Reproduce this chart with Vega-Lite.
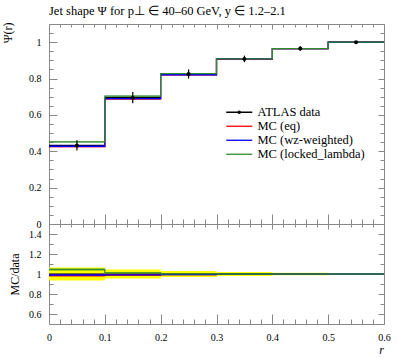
{
  "$schema": "https://vega.github.io/schema/vega-lite/v6.json",
  "padding": {"left": 0, "top": 4, "right": 5, "bottom": 2},
  "background": "white",
  "spacing": 0,
  "bounds": "flush",
  "config": {
    "view": {"stroke": "#888888", "strokeWidth": 1},
    "axis": {"domain": false, "grid": false, "labelFlush": false, "tickColor": "#888888", "tickWidth": 1, "labelFont": "Liberation Serif", "labelFontSize": 10, "labelColor": "black", "titleFont": "Liberation Serif", "titleFontWeight": "normal", "titleColor": "black", "titleFontSize": 12},
    "legend": {"labelFont": "Liberation Serif", "labelFontSize": 12.5, "labelColor": "black"}
  },
  "datasets": {
    "mcbins": [
      {"series": "MC (eq)", "lo": 0.0, "hi": 0.1, "val": 0.4255, "lo_v": 0.4205, "hi_v": 0.4305, "ratio": 0.985, "rlo": 0.973, "rhi": 0.997},
      {"series": "MC (eq)", "lo": 0.1, "hi": 0.2, "val": 0.688, "lo_v": 0.6825, "hi_v": 0.6935, "ratio": 0.99, "rlo": 0.982, "rhi": 0.998},
      {"series": "MC (eq)", "lo": 0.2, "hi": 0.3, "val": 0.821, "lo_v": 0.817, "hi_v": 0.825, "ratio": 0.995, "rlo": 0.99, "rhi": 1.0},
      {"series": "MC (eq)", "lo": 0.3, "hi": 0.4, "val": 0.906, "lo_v": 0.903, "hi_v": 0.909, "ratio": 0.998, "rlo": 0.994, "rhi": 1.002},
      {"series": "MC (eq)", "lo": 0.4, "hi": 0.5, "val": 0.965, "lo_v": 0.962, "hi_v": 0.968, "ratio": 1.0, "rlo": 0.997, "rhi": 1.003},
      {"series": "MC (eq)", "lo": 0.5, "hi": 0.6, "val": 1.0, "lo_v": 0.998, "hi_v": 1.002, "ratio": 1.0, "rlo": 0.998, "rhi": 1.002},
      {"series": "MC (wz-weighted)", "lo": 0.0, "hi": 0.1, "val": 0.4277, "lo_v": 0.4227, "hi_v": 0.4327, "ratio": 0.99, "rlo": 0.978, "rhi": 1.002},
      {"series": "MC (wz-weighted)", "lo": 0.1, "hi": 0.2, "val": 0.6894, "lo_v": 0.6839, "hi_v": 0.6949, "ratio": 0.992, "rlo": 0.984, "rhi": 1.0},
      {"series": "MC (wz-weighted)", "lo": 0.2, "hi": 0.3, "val": 0.821, "lo_v": 0.817, "hi_v": 0.825, "ratio": 0.995, "rlo": 0.99, "rhi": 1.0},
      {"series": "MC (wz-weighted)", "lo": 0.3, "hi": 0.4, "val": 0.908, "lo_v": 0.905, "hi_v": 0.911, "ratio": 1.0, "rlo": 0.996, "rhi": 1.004},
      {"series": "MC (wz-weighted)", "lo": 0.4, "hi": 0.5, "val": 0.965, "lo_v": 0.962, "hi_v": 0.968, "ratio": 1.0, "rlo": 0.997, "rhi": 1.003},
      {"series": "MC (wz-weighted)", "lo": 0.5, "hi": 0.6, "val": 1.0, "lo_v": 0.998, "hi_v": 1.002, "ratio": 1.0, "rlo": 0.998, "rhi": 1.002},
      {"series": "MC (locked_lambda)", "lo": 0.0, "hi": 0.1, "val": 0.4514, "lo_v": 0.4464, "hi_v": 0.4564, "ratio": 1.045, "rlo": 1.033, "rhi": 1.057},
      {"series": "MC (locked_lambda)", "lo": 0.1, "hi": 0.2, "val": 0.7033, "lo_v": 0.6978, "hi_v": 0.7088, "ratio": 1.012, "rlo": 1.004, "rhi": 1.02},
      {"series": "MC (locked_lambda)", "lo": 0.2, "hi": 0.3, "val": 0.8267, "lo_v": 0.8227, "hi_v": 0.8307, "ratio": 1.002, "rlo": 0.997, "rhi": 1.007},
      {"series": "MC (locked_lambda)", "lo": 0.3, "hi": 0.4, "val": 0.908, "lo_v": 0.905, "hi_v": 0.911, "ratio": 1.0, "rlo": 0.996, "rhi": 1.004},
      {"series": "MC (locked_lambda)", "lo": 0.4, "hi": 0.5, "val": 0.965, "lo_v": 0.962, "hi_v": 0.968, "ratio": 1.0, "rlo": 0.997, "rhi": 1.003},
      {"series": "MC (locked_lambda)", "lo": 0.5, "hi": 0.6, "val": 1.0, "lo_v": 0.998, "hi_v": 1.002, "ratio": 1.0, "rlo": 0.998, "rhi": 1.002}
    ],
    "mcsteps": [
      {"series": "MC (eq)", "r": 0.0, "val": 0.4255, "ratio": 0.985},
      {"series": "MC (eq)", "r": 0.1, "val": 0.688, "ratio": 0.99},
      {"series": "MC (eq)", "r": 0.2, "val": 0.821, "ratio": 0.995},
      {"series": "MC (eq)", "r": 0.3, "val": 0.906, "ratio": 0.998},
      {"series": "MC (eq)", "r": 0.4, "val": 0.965, "ratio": 1.0},
      {"series": "MC (eq)", "r": 0.5, "val": 1.0, "ratio": 1.0},
      {"series": "MC (eq)", "r": 0.6, "val": 1.0, "ratio": 1.0},
      {"series": "MC (wz-weighted)", "r": 0.0, "val": 0.4277, "ratio": 0.99},
      {"series": "MC (wz-weighted)", "r": 0.1, "val": 0.6894, "ratio": 0.992},
      {"series": "MC (wz-weighted)", "r": 0.2, "val": 0.821, "ratio": 0.995},
      {"series": "MC (wz-weighted)", "r": 0.3, "val": 0.908, "ratio": 1.0},
      {"series": "MC (wz-weighted)", "r": 0.4, "val": 0.965, "ratio": 1.0},
      {"series": "MC (wz-weighted)", "r": 0.5, "val": 1.0, "ratio": 1.0},
      {"series": "MC (wz-weighted)", "r": 0.6, "val": 1.0, "ratio": 1.0},
      {"series": "MC (locked_lambda)", "r": 0.0, "val": 0.4514, "ratio": 1.045},
      {"series": "MC (locked_lambda)", "r": 0.1, "val": 0.7033, "ratio": 1.012},
      {"series": "MC (locked_lambda)", "r": 0.2, "val": 0.8267, "ratio": 1.002},
      {"series": "MC (locked_lambda)", "r": 0.3, "val": 0.908, "ratio": 1.0},
      {"series": "MC (locked_lambda)", "r": 0.4, "val": 0.965, "ratio": 1.0},
      {"series": "MC (locked_lambda)", "r": 0.5, "val": 1.0, "ratio": 1.0},
      {"series": "MC (locked_lambda)", "r": 0.6, "val": 1.0, "ratio": 1.0}
    ],
    "atlas": [
      {"r": 0.05, "lo": 0.0, "hi": 0.1, "val": 0.432, "low": 0.404, "high": 0.46, "rval": 1, "rlow": 0.935, "rhigh": 1.065},
      {"r": 0.15, "lo": 0.1, "hi": 0.2, "val": 0.695, "low": 0.664, "high": 0.726, "rval": 1, "rlow": 0.955, "rhigh": 1.045},
      {"r": 0.25, "lo": 0.2, "hi": 0.3, "val": 0.825, "low": 0.8, "high": 0.85, "rval": 1, "rlow": 0.97, "rhigh": 1.03},
      {"r": 0.35, "lo": 0.3, "hi": 0.4, "val": 0.908, "low": 0.89, "high": 0.926, "rval": 1, "rlow": 0.98, "rhigh": 1.02},
      {"r": 0.45, "lo": 0.4, "hi": 0.5, "val": 0.965, "low": 0.953, "high": 0.977, "rval": 1, "rlow": 0.988, "rhigh": 1.012},
      {"r": 0.55, "lo": 0.5, "hi": 0.6, "val": 1.0, "low": 1.0, "high": 1.0, "rval": 1, "rlow": 1.0, "rhigh": 1.0}
    ]
  },
  "vconcat": [
    {
      "width": 335,
      "height": 200,
      "title": {"text": "Jet shape Ψ for p⊥ ∈ 40–60 GeV, y ∈ 1.2–2.1", "anchor": "start", "frame": "group", "font": "Liberation Serif", "fontSize": 12.5, "fontWeight": "normal", "color": "black", "offset": 5},
      "resolve": {"axis": {"x": "independent", "y": "independent"}},
      "layer": [
        {
          "data": {"name": "mcbins"},
          "mark": {"type": "rect", "opacity": 0.3},
          "encoding": {
            "x": {"field": "lo", "type": "quantitative", "scale": {"domain": [0, 0.6], "nice": false, "zero": false},
                  "axis": {"orient": "bottom", "values": [0, 0.1, 0.2, 0.3, 0.4, 0.5, 0.6], "labels": false, "tickSize": -10, "title": null}},
            "x2": {"field": "hi"},
            "y": {"field": "lo_v", "type": "quantitative", "scale": {"domain": [0, 1.1], "nice": false, "zero": false},
                  "axis": {"orient": "left", "values": [0, 0.2, 0.4, 0.6, 0.8, 1], "format": "~g", "tickSize": -8, "labelPadding": 16, "title": "Ψ(r)", "titleAnchor": "end", "titleAngle": -90, "titleX": -42, "titleY": -2, "titleAlign": "right", "titleBaseline": "middle"}},
            "y2": {"field": "hi_v"},
            "color": {"field": "series", "type": "nominal",
                      "scale": {"domain": ["ATLAS data", "MC (eq)", "MC (wz-weighted)", "MC (locked_lambda)"], "range": ["black", "#ff0000", "#0000ff", "#2e8b2e"]}}
          }
        },
        {
          "data": {"name": "atlas"},
          "mark": {"type": "rule", "strokeWidth": 1.2},
          "encoding": {
            "x": {"field": "lo", "type": "quantitative", "scale": {"domain": [0, 0.6], "nice": false, "zero": false},
                  "axis": {"orient": "top", "values": [0, 0.1, 0.2, 0.3, 0.4, 0.5, 0.6], "labels": false, "tickSize": -5, "title": null}},
            "x2": {"field": "hi"},
            "y": {"field": "val", "type": "quantitative", "scale": {"domain": [0, 1.1], "nice": false, "zero": false},
                  "axis": {"orient": "right", "values": [0, 0.2, 0.4, 0.6, 0.8, 1], "labels": false, "tickSize": -6, "title": null}},
            "color": {"datum": "ATLAS data"}
          }
        },
        {
          "data": {"name": "mcsteps"},
          "mark": {"type": "line", "interpolate": "step-after", "strokeWidth": 1.3},
          "encoding": {
            "x": {"field": "r", "type": "quantitative", "scale": {"domain": [0, 0.6], "nice": false, "zero": false},
                  "axis": {"orient": "bottom", "values": [0.02, 0.04, 0.06, 0.08, 0.12, 0.14, 0.16, 0.18, 0.22, 0.24, 0.26, 0.28, 0.32, 0.34, 0.36, 0.38, 0.42, 0.44, 0.46, 0.48, 0.52, 0.54, 0.56, 0.58], "labels": false, "tickSize": -5, "title": null}},
            "y": {"field": "val", "type": "quantitative", "scale": {"domain": [0, 1.1], "nice": false, "zero": false},
                  "axis": {"orient": "left", "values": [0.05, 0.1, 0.15, 0.25, 0.3, 0.35, 0.45, 0.5, 0.55, 0.65, 0.7, 0.75, 0.85, 0.9, 0.95, 1.05], "labels": false, "tickSize": -4, "title": null}},
            "color": {"field": "series", "type": "nominal",
                      "scale": {"domain": ["ATLAS data", "MC (eq)", "MC (wz-weighted)", "MC (locked_lambda)"], "range": ["black", "#ff0000", "#0000ff", "#2e8b2e"]},
                      "legend": {"title": null, "orient": "none", "legendX": 184, "legendY": 82, "padding": 0, "symbolSize": 100, "labelOffset": 12, "rowPadding": 1, "symbolStrokeWidth": 1.3,
                                 "encode": {"symbols": {"update": {
                                   "shape": {"signal": "datum.value == 'ATLAS data' ? 'M-2.6,0H2.6M-0.22,0A0.22,0.22 0 1,0 0.22,0A0.22,0.22 0 1,0 -0.22,0Z' : 'M-2.6,0H2.6'"},
                                   "fill": {"signal": "datum.value == 'ATLAS data' ? 'black' : 'transparent'"},
                                   "stroke": {"signal": "datum.value == 'ATLAS data' ? 'black' : datum.value == 'MC (eq)' ? '#ff0000' : datum.value == 'MC (wz-weighted)' ? '#0000ff' : '#2e8b2e'"},
                                   "opacity": {"value": 1},
                                   "fillOpacity": {"value": 1},
                                   "strokeOpacity": {"value": 1},
                                   "strokeWidth": {"value": 1.3}}}}}}
          }
        },
        {
          "data": {"name": "atlas"},
          "mark": {"type": "rule", "strokeWidth": 1.2},
          "encoding": {
            "x": {"field": "r", "type": "quantitative", "scale": {"domain": [0, 0.6], "nice": false, "zero": false},
                  "axis": {"orient": "top", "values": [0.02, 0.04, 0.06, 0.08, 0.12, 0.14, 0.16, 0.18, 0.22, 0.24, 0.26, 0.28, 0.32, 0.34, 0.36, 0.38, 0.42, 0.44, 0.46, 0.48, 0.52, 0.54, 0.56, 0.58], "labels": false, "tickSize": -3, "title": null}},
            "y": {"field": "low", "type": "quantitative", "scale": {"domain": [0, 1.1], "nice": false, "zero": false},
                  "axis": {"orient": "right", "values": [0.05, 0.1, 0.15, 0.25, 0.3, 0.35, 0.45, 0.5, 0.55, 0.65, 0.7, 0.75, 0.85, 0.9, 0.95, 1.05], "labels": false, "tickSize": -4, "title": null}},
            "y2": {"field": "high"},
            "color": {"datum": "ATLAS data"}
          }
        },
        {
          "data": {"name": "atlas"},
          "mark": {"type": "circle", "size": 16, "opacity": 1, "color": "black"},
          "encoding": {
            "x": {"field": "r", "type": "quantitative", "scale": {"domain": [0, 0.6], "nice": false, "zero": false}, "axis": null},
            "y": {"field": "val", "type": "quantitative", "scale": {"domain": [0, 1.1], "nice": false, "zero": false}, "axis": null}
          }
        }
      ]
    },
    {
      "width": 335,
      "height": 100,
      "resolve": {"axis": {"x": "independent", "y": "independent"}},
      "layer": [
        {
          "data": {"name": "atlas"},
          "mark": {"type": "rect", "color": "#ffff00"},
          "encoding": {
            "x": {"field": "lo", "type": "quantitative", "scale": {"domain": [0, 0.6], "nice": false, "zero": false},
                  "axis": {"orient": "bottom", "values": [0, 0.1, 0.2, 0.3, 0.4, 0.5, 0.6], "format": "~g", "tickSize": -10, "labelPadding": 18, "title": "r", "titleFontStyle": "italic", "titleX": 332, "titleY": 29, "titleAlign": "center", "titleBaseline": "alphabetic"}},
            "x2": {"field": "hi"},
            "y": {"field": "rlow", "type": "quantitative", "scale": {"domain": [0.5, 1.5], "nice": false, "zero": false},
                  "axis": {"orient": "left", "values": [0.6, 0.8, 1, 1.2, 1.4], "format": "~g", "tickSize": -8, "labelPadding": 16, "title": "MC/data", "titleAngle": -90, "titleX": -35, "titleY": 50, "titleAlign": "center", "titleBaseline": "middle"}},
            "y2": {"field": "rhigh"}
          }
        },
        {
          "data": {"name": "mcbins"},
          "mark": {"type": "rect", "opacity": 0.3},
          "encoding": {
            "x": {"field": "lo", "type": "quantitative", "scale": {"domain": [0, 0.6], "nice": false, "zero": false},
                  "axis": {"orient": "bottom", "values": [0.02, 0.04, 0.06, 0.08, 0.12, 0.14, 0.16, 0.18, 0.22, 0.24, 0.26, 0.28, 0.32, 0.34, 0.36, 0.38, 0.42, 0.44, 0.46, 0.48, 0.52, 0.54, 0.56, 0.58], "labels": false, "tickSize": -5, "title": null}},
            "x2": {"field": "hi"},
            "y": {"field": "rlo", "type": "quantitative", "scale": {"domain": [0.5, 1.5], "nice": false, "zero": false},
                  "axis": {"orient": "left", "values": [0.7, 0.9, 1.1, 1.3], "labels": false, "tickSize": -4, "title": null}},
            "y2": {"field": "rhi"},
            "color": {"field": "series", "type": "nominal", "legend": null,
                      "scale": {"domain": ["ATLAS data", "MC (eq)", "MC (wz-weighted)", "MC (locked_lambda)"], "range": ["black", "#ff0000", "#0000ff", "#2e8b2e"]}}
          }
        },
        {
          "data": {"name": "atlas"},
          "mark": {"type": "rule", "color": "black", "strokeWidth": 1},
          "encoding": {
            "x": {"field": "lo", "type": "quantitative", "scale": {"domain": [0, 0.6], "nice": false, "zero": false},
                  "axis": {"orient": "top", "values": [0.02, 0.04, 0.06, 0.08, 0.12, 0.14, 0.16, 0.18, 0.22, 0.24, 0.26, 0.28, 0.32, 0.34, 0.36, 0.38, 0.42, 0.44, 0.46, 0.48, 0.52, 0.54, 0.56, 0.58], "labels": false, "tickSize": -3, "title": null}},
            "x2": {"field": "hi"},
            "y": {"field": "rval", "type": "quantitative", "scale": {"domain": [0.5, 1.5], "nice": false, "zero": false},
                  "axis": {"orient": "right", "values": [0.7, 0.9, 1.1, 1.3], "labels": false, "tickSize": -4, "title": null}}
          }
        },
        {
          "data": {"name": "mcsteps"},
          "mark": {"type": "line", "interpolate": "step-after", "strokeWidth": 1.3},
          "encoding": {
            "x": {"field": "r", "type": "quantitative", "scale": {"domain": [0, 0.6], "nice": false, "zero": false},
                  "axis": {"orient": "top", "values": [0, 0.1, 0.2, 0.3, 0.4, 0.5, 0.6], "labels": false, "tickSize": -5, "title": null}},
            "y": {"field": "ratio", "type": "quantitative", "scale": {"domain": [0.5, 1.5], "nice": false, "zero": false},
                  "axis": {"orient": "right", "values": [0.6, 0.8, 1, 1.2, 1.4], "labels": false, "tickSize": -6, "title": null}},
            "color": {"field": "series", "type": "nominal", "legend": null,
                      "scale": {"domain": ["ATLAS data", "MC (eq)", "MC (wz-weighted)", "MC (locked_lambda)"], "range": ["black", "#ff0000", "#0000ff", "#2e8b2e"]}}
          }
        }
      ]
    }
  ]
}
